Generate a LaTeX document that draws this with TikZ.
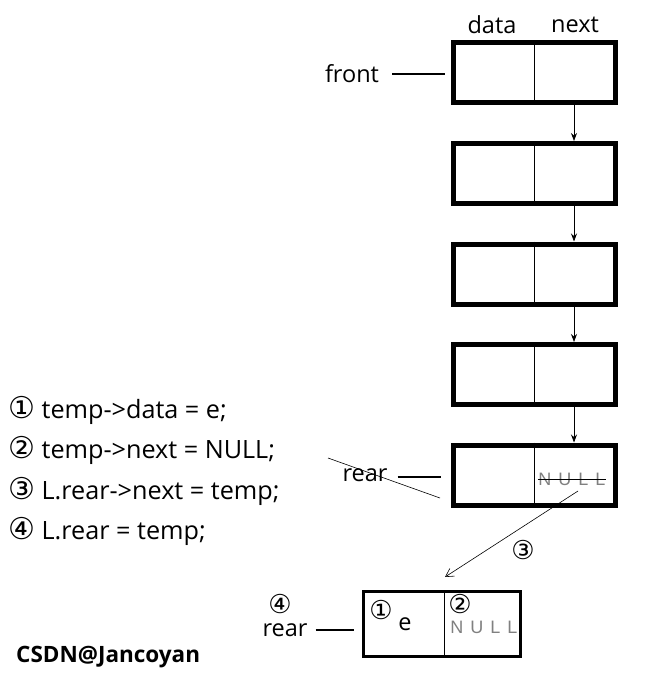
\documentclass[tikz,border=0pt]{standalone}
\usepackage{fontspec}
\setmainfont{Open Sans}
\newfontfamily\symfont{DejaVu Sans}
\newfontfamily\nulltextfont{Liberation Sans}
\usetikzlibrary{arrows.meta}
\colorlet{nullgray}{black!50}

\begin{document}
\begin{tikzpicture}[x=1pt,y=-1pt]
\tikzset{NodeBox/.style ={draw,line width=5pt,minimum width=162pt,minimum height=60pt,inner sep=0pt}}
\tikzset{NewBox/.style ={draw,line width=3pt,minimum width=157pt,minimum height=65pt,inner sep=0pt}}
\tikzset{LinkStyle/.style ={-{Stealth[length=8pt,width=6pt]},line width=0.7pt}}
\tikzset{PtrStyle/.style ={line width=2.8pt}}
\tikzset{Label/.style ={font=\fontsize{23.5}{26}\selectfont,inner sep=0pt}}
\tikzset{CodeLine/.style ={font=\fontsize{25.2}{28}\selectfont,inner sep=0pt,anchor=base west}}
\tikzset{NullStyle/.style ={font=\nulltextfont\fontsize{18}{20}\selectfont,text=nullgray,inner sep=0pt}}
\tikzset{Step/.style ={font=\symfont\fontsize{26}{28}\selectfont,inner sep=0pt}}
\newcommand{\stepmark}[1]{{\symfont\fontsize{30}{30}\selectfont #1}}
\useasboundingbox (0,0) rectangle (649,674);
% queue
\foreach \i in {0,...,4}
  \node[NodeBox] (b\i) at (534,{73+100.5*\i}) {};
\foreach \i in {0,...,4}
  \draw[line width=0.8pt] (b\i.north) -- (b\i.south);
\foreach \i [evaluate=\i as \j using int(\i+1)] in {0,...,3}
  \draw[LinkStyle] ([xshift=40pt]b\i.south) -- ([xshift=40pt]b\j.north);
\node[Label] (data) at (492,25) {data};
\node[Label] (next) at (575,25) {next};
\node[Label] (front) at (352,74) {front};
\draw[PtrStyle] ([xshift=13pt]front.east) -- ([xshift=-6pt]b0.west |- front.east);
% old rear
\node[Label] (rear) at (365,475) {rear};
\draw[PtrStyle] ([xshift=10pt,yshift=-2pt]rear.east) -- ([xshift=-10pt,yshift=-2pt]b4.west |- rear.east);
\coordinate (cross1) at (328,458);
\coordinate (cross2) at (440,498);
\draw[line width=0.6pt] (cross1) -- (cross2);
\node[NullStyle] (null) at (572,479) {N\hspace{7pt}U\hspace{7pt}L\hspace{7pt}L};
\draw[line width=0.8pt] (null.west) -- (null.east);
% new node
\node[NewBox] (temp) at (442,624) {};
\draw[line width=0.8pt] (444,590) -- (444,658);
\node[Step] (s1) at (381,610) {①};
\node[Label] (e) at (405,624) {e};
\node[Step] (s2) at (460,604) {②};
\node[NullStyle] (null2) at (484,627) {N\hspace{7pt}U\hspace{7pt}L\hspace{7pt}L};
\coordinate (tail) at (578,491);
\coordinate (head) at (445,577);
\draw[-{Straight Barb[length=8pt,width=9pt]},line width=0.6pt] (tail) -- (head);
\node[Step] (s3) at (523,550) {③};
\node[Step] (s4) at (280,604) {④};
\node[Label] (rear2) at (285,630) {rear};
\draw[PtrStyle] ([xshift=8pt]rear2.east) -- ([xshift=-8pt]temp.west |- rear2.east);
% code
\node[CodeLine] (c1) at (8,418) {\stepmark{①} temp->data = e;};
\node[CodeLine] (c2) at (8,458) {\stepmark{②} temp->next = NULL;};
\node[CodeLine] (c3) at (8,499) {\stepmark{③} L.rear->next = temp;};
\node[CodeLine] (c4) at (8,539) {\stepmark{④} L.rear = temp;};
\node[font=\bfseries\fontsize{22.5}{24}\selectfont,anchor=west,inner sep=0pt] (mark) at (16,657) {CSDN@Jancoyan};
\end{tikzpicture}
\end{document}
